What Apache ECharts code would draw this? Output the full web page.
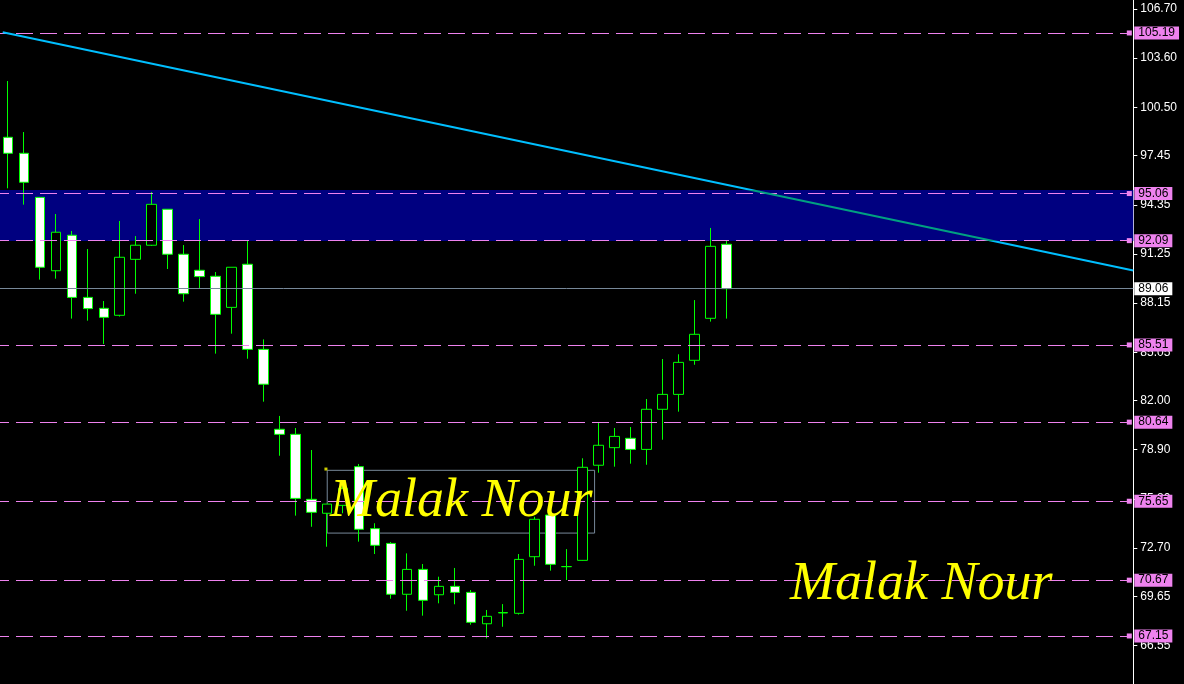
<!DOCTYPE html>
<html>
<head>
<meta charset="utf-8">
<script src="https://cdn.jsdelivr.net/npm/echarts@6/dist/echarts.min.js"></script>
<style>
html,body{margin:0;padding:0;background:#000;}
#chart{width:1184px;height:684px;}
</style>
</head>
<body>
<div id="chart"></div>
<script>
// ---- data ----
const opens  = [98.61,97.60,94.82,90.19,92.43,88.51,87.82,87.38,90.91,91.80,94.07,91.23,90.22,89.84,87.88,90.60,85.23,80.19,79.87,75.77,74.89,75.39,77.83,73.92,72.99,69.78,71.35,69.75,70.28,69.90,67.92,68.60,68.58,72.15,74.78,71.52,71.92,77.92,79.03,79.62,78.92,81.45,82.39,84.54,87.19,91.86];
const closes = [97.60,95.77,90.41,92.62,88.51,87.80,87.25,91.04,91.80,94.38,91.23,88.74,89.82,87.44,90.41,85.23,83.03,79.87,75.83,74.95,75.47,76.46,73.88,72.87,69.78,71.35,69.40,70.28,69.90,68.01,68.39,68.63,71.98,74.51,71.67,71.53,77.79,79.18,79.74,78.92,81.45,82.39,84.41,86.18,91.73,89.06];
const lows   = [95.39,94.36,89.63,89.69,87.17,87.04,85.57,87.30,88.74,91.75,90.30,88.24,89.08,84.96,86.22,84.64,81.93,78.52,74.74,74.04,72.78,74.89,73.10,72.32,69.50,68.74,68.43,69.21,69.15,67.86,67.00,67.73,68.50,71.58,71.27,70.68,71.90,77.45,77.83,78.02,77.95,79.53,81.30,84.26,86.98,87.17];
const highs  = [102.16,98.94,94.82,93.77,92.70,91.56,88.28,93.33,92.38,95.16,94.07,91.81,93.45,90.11,90.41,92.09,85.86,81.03,80.27,78.88,75.47,76.74,78.00,74.26,73.08,72.36,71.69,70.89,71.44,70.05,68.79,69.16,72.32,74.67,74.90,72.63,78.36,80.65,80.27,80.33,82.10,84.62,84.92,88.34,92.89,92.09];
const slotCount = 71; // visible bar slots on the chart, incl. empty space on the right
const categories = Array.from({length: slotCount}, (_, i) => String(i + 1));

const levels = [105.19, 95.06, 92.09, 85.51, 80.64, 75.65, 70.67, 67.15];
const lastPrice = 89.06;
const yTicks = [106.70, 103.60, 100.50, 97.45, 94.35, 91.25, 88.15, 85.05, 82.00, 78.90, 75.80, 72.70, 69.65, 66.55];
const yRange = [64.12, 107.27];
const band = [92.06, 95.28];
const trendX = [-0.33, 70.5];
const trendY = [105.23, 90.21];
const boxX = [20, 36.75];
const boxY = [77.60, 73.64];
const boxAnchor = [19.92, 77.68];
const watermark = 'Malak Nour';

// ---- build ----
const candleData = opens.map((o, i) => [o, closes[i], lows[i], highs[i]]);
const xMin = -0.5, xMax = slotCount - 0.5;
const labelFont = 'Liberation Sans';

const levelLines = levels.map(v => ([
  {coord: [xMin, v], symbol: 'none', label: {formatter: v.toFixed(2)}},
  {coord: [xMax - 0.25, v], symbol: 'rect'}
]));
const priceLine = [
  {coord: [xMin, lastPrice], symbol: 'none', lineStyle: {type: 'solid', color: '#778899', width: 1},
   label: {formatter: lastPrice.toFixed(2), backgroundColor: '#ffffff', distance: 1}},
  {coord: [xMax, lastPrice], symbol: 'none'}
];

const chart = echarts.init(document.getElementById('chart'), null, {renderer: 'canvas'});
const option = {
  animation: false,
  backgroundColor: '#000000',
  grid: {left: -2.7, right: 50.7, top: 0, bottom: 0},
  xAxis: [
    {type: 'category', data: categories, boundaryGap: true, show: false},
    {type: 'value', min: xMin, max: xMax, show: false}
  ],
  yAxis: {
    type: 'value', position: 'right', min: yRange[0], max: yRange[1], scale: true,
    axisLine: {show: true, onZero: false, lineStyle: {color: '#ffffff', width: 1}},
    axisTick: {show: true, length: 4, customValues: yTicks, lineStyle: {color: '#ffffff'}},
    axisLabel: {customValues: yTicks, formatter: v => v.toFixed(2), color: '#ffffff', fontSize: 12, margin: 7, fontFamily: labelFont},
    splitLine: {show: false}
  },
  visualMap: {
    type: 'piecewise', show: false, seriesIndex: 4, dimension: 1,
    pieces: [{gt: band[0], lte: band[1], color: '#00A080'}],
    outOfRange: {color: '#00BFFF'}
  },
  series: [
    {
      type: 'scatter', xAxisIndex: 1, data: [], z: 1, silent: true,
      markArea: {silent: true, itemStyle: {color: '#000080'}, data: [[{yAxis: band[1]}, {yAxis: band[0]}]]}
    },
    {
      type: 'scatter', xAxisIndex: 1, data: [boxAnchor], z: 2, symbol: 'rect', symbolSize: 3,
      itemStyle: {color: '#FFFF00'}, silent: true,
      markArea: {silent: true, itemStyle: {color: 'rgba(0,0,0,0)', borderColor: '#778899', borderWidth: 1},
        data: [[{coord: [boxX[0], boxY[0]]}, {coord: [boxX[1], boxY[1]]}]]}
    },
    {
      type: 'candlestick', xAxisIndex: 0, data: candleData, z: 3, barWidth: 10,
      itemStyle: {color: '#000000', color0: '#ffffff', borderColor: '#00FF00', borderColor0: '#00FF00', borderWidth: 1}
    },
    {
      type: 'scatter', xAxisIndex: 1, data: [], z: 4, silent: true,
      markLine: {
        silent: true, symbol: ['none', 'rect'], symbolSize: 5,
        lineStyle: {color: '#EE82EE', type: [17, 7], dashOffset: 8, width: 1},
        label: {show: true, position: 'end', distance: 5, color: '#000000', backgroundColor: '#EE82EE',
          fontSize: 12, fontFamily: labelFont, padding: [1, 4, 0, 4], align: 'left'},
        data: levelLines.concat([priceLine])
      }
    },
    {
      type: 'line', xAxisIndex: 1, data: trendX.map((x, i) => [x, trendY[i]]), z: 5, symbol: 'none',
      lineStyle: {width: 2}, silent: true
    }
  ],
  graphic: [
    {type: 'text', z: 100, x: 330, y: 529, style: {text: watermark, fontStyle: 'italic', fontSize: 54, fontFamily: 'Liberation Serif', fill: '#FFFF00', verticalAlign: 'bottom'}},
    {type: 'text', z: 100, x: 790, y: 612, style: {text: watermark, fontStyle: 'italic', fontSize: 54, fontFamily: 'Liberation Serif', fill: '#FFFF00', verticalAlign: 'bottom'}}
  ]
};
chart.setOption(option);
</script>
</body>
</html>
